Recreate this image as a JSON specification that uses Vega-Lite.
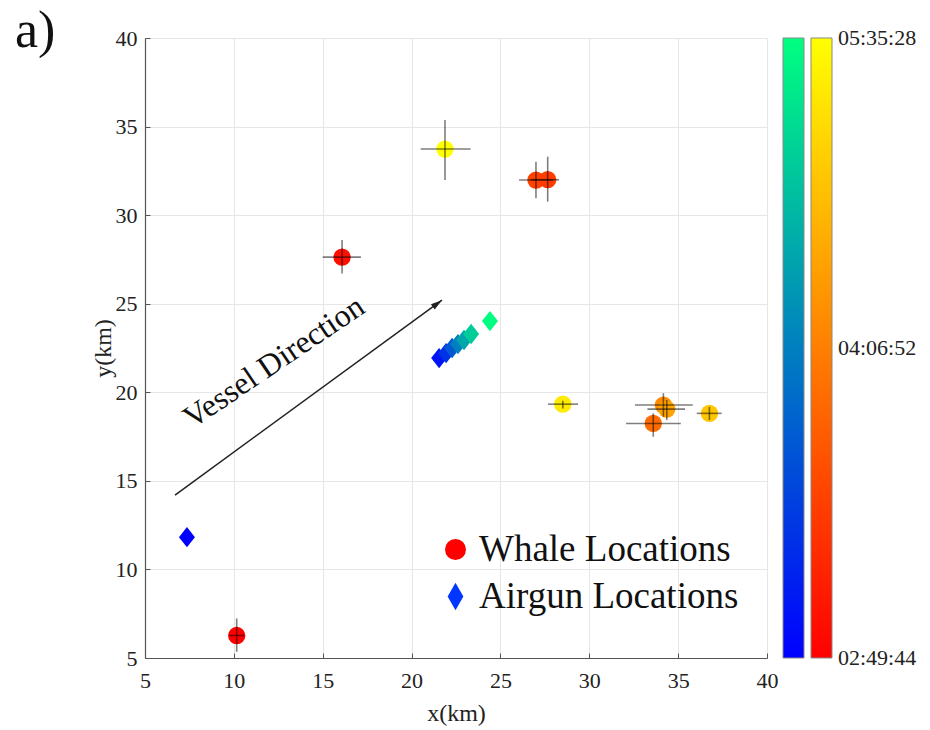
{
  "$schema": "https://vega.github.io/schema/vega-lite/v6.json",
  "width": 622,
  "height": 620,
  "autosize": {"type": "none"},
  "padding": {"left": 145, "top": 38, "right": 163, "bottom": 72},
  "background": "white",
  "title": {"text": "a)", "anchor": "start", "frame": "group", "orient": "top", "offset": 0, "dx": -130, "dy": 72, "fontSize": 52, "font": "Liberation Serif", "fontWeight": "normal", "color": "#111", "baseline": "alphabetic"},
  "datasets": {
    "whales": [
      {"x": 10.16, "y": 6.27, "xlo": 9.74, "xhi": 10.57, "ylo": 5.35, "yhi": 7.23, "seconds": 10184},
      {"x": 16.09, "y": 27.63, "xlo": 15.0, "xhi": 17.15, "ylo": 26.71, "yhi": 28.59, "seconds": 10780},
      {"x": 27.0, "y": 31.98, "xlo": 26.05, "xhi": 27.96, "ylo": 30.95, "yhi": 33.02, "seconds": 12770},
      {"x": 27.66, "y": 32.0, "xlo": 26.72, "xhi": 28.3, "ylo": 30.76, "yhi": 33.3, "seconds": 12570},
      {"x": 33.6, "y": 18.24, "xlo": 32.07, "xhi": 35.15, "ylo": 17.49, "yhi": 18.81, "seconds": 14360},
      {"x": 34.17, "y": 19.28, "xlo": 32.57, "xhi": 35.82, "ylo": 18.62, "yhi": 19.95, "seconds": 15650},
      {"x": 34.36, "y": 19.05, "xlo": 33.27, "xhi": 35.39, "ylo": 18.43, "yhi": 19.56, "seconds": 16550},
      {"x": 36.76, "y": 18.81, "xlo": 36.05, "xhi": 37.45, "ylo": 18.43, "yhi": 19.18, "seconds": 17940},
      {"x": 28.51, "y": 19.33, "xlo": 27.68, "xhi": 29.37, "ylo": 19.09, "yhi": 19.52, "seconds": 19330},
      {"x": 21.88, "y": 33.73, "xlo": 20.51, "xhi": 23.32, "ylo": 31.98, "yhi": 35.37, "seconds": 20128}
    ],
    "airguns": [
      {"x": 7.36, "y": 11.82, "seconds": 10184},
      {"x": 21.55, "y": 21.93, "seconds": 10980},
      {"x": 21.94, "y": 22.21, "seconds": 12173},
      {"x": 22.28, "y": 22.5, "seconds": 13664},
      {"x": 22.61, "y": 22.72, "seconds": 15156},
      {"x": 22.95, "y": 22.95, "seconds": 16648},
      {"x": 23.35, "y": 23.29, "seconds": 18139},
      {"x": 24.41, "y": 24.02, "seconds": 20128}
    ],
    "arrow": [
      {"x": 6.69, "y": 14.2, "x2": 21.71, "y2": 25.2}
    ],
    "note": [
      {"x": 12.25, "y": 21.7, "label": "Vessel Direction"}
    ]
  },
  "config": {
    "view": {"stroke": null},
    "font": "Liberation Serif",
    "axis": {
      "grid": true, "gridColor": "#e6e6e6", "gridWidth": 1,
      "domainColor": "#555", "domainWidth": 1.2, "tickColor": "#555", "tickSize": -5,
      "labelFont": "Liberation Serif", "labelFontSize": 22, "labelColor": "#222", "labelPadding": 12,
      "labelFlush": false, "labelOverlap": false,
      "titleFont": "Liberation Serif", "titleFontSize": 24, "titleFontWeight": "normal", "titleColor": "#222"
    }
  },
  "layer": [
    {
      "data": {"name": "airguns"},
      "mark": {"type": "point", "filled": true, "opacity": 1, "size": 256, "strokeWidth": 0, "shape": "M0,-1.27L1,0L0,1.27L-1,0Z"},
      "encoding": {
        "x": {"field": "x", "type": "quantitative", "title": "x(km)", "scale": {"domain": [5, 40], "nice": false, "zero": false}, "axis": {"values": [5, 10, 15, 20, 25, 30, 35, 40], "titlePadding": 10, "labelPadding": 17}},
        "y": {"field": "y", "type": "quantitative", "title": "y(km)", "scale": {"domain": [5, 40], "nice": false, "zero": false}, "axis": {"values": [5, 10, 15, 20, 25, 30, 35, 40], "titlePadding": 0, "labelPadding": 13}},
        "color": {"field": "seconds", "type": "quantitative", "scale": {"domain": [10184, 20128], "range": ["#0000ff", "#00ff80"], "interpolate": "rgb"},
          "legend": {"orient": "none", "legendX": 638, "legendY": 0, "direction": "vertical", "title": null, "gradientLength": 620, "gradientThickness": 21, "gradientStrokeColor": "#888", "gradientStrokeWidth": 1, "values": [10185, 20127], "labelExpr": "''"}}
      }
    },
    {
      "data": {"name": "airguns"},
      "mark": {"type": "point", "filled": true, "size": 0, "strokeWidth": 0},
      "encoding": {
        "x": {"field": "x", "type": "quantitative", "title": "x(km)"},
        "y": {"field": "y", "type": "quantitative", "title": "y(km)"},
        "shape": {"datum": "Whale Locations", "type": "nominal", "scale": {"domain": ["Whale Locations", "Airgun Locations"], "range": ["circle", "M0,-1.3L0.75,0L0,1.3L-0.75,0Z"]},
          "legend": {"orient": "none", "legendX": 292, "legendY": 493, "title": null, "symbolSize": 441, "symbolStrokeWidth": 0, "symbolOpacity": 1, "labelFont": "Liberation Serif", "labelFontSize": 37, "labelColor": "#111", "labelOffset": 5, "labelLimit": 500, "rowPadding": 9}},
        "fill": {"datum": "Whale Locations", "type": "nominal", "scale": {"domain": ["Whale Locations", "Airgun Locations"], "range": ["#ff0000", "#0036ff"]},
          "legend": {"orient": "none", "legendX": 292, "legendY": 493, "title": null, "symbolSize": 441, "symbolStrokeWidth": 0, "symbolOpacity": 1, "labelFont": "Liberation Serif", "labelFontSize": 37, "labelColor": "#111", "labelOffset": 5, "labelLimit": 500, "rowPadding": 9}}
      }
    },
    {
      "data": {"name": "arrow"},
      "mark": {"type": "rule", "color": "#222", "strokeWidth": 1.5},
      "encoding": {
        "x": {"field": "x", "type": "quantitative", "title": "x(km)"},
        "y": {"field": "y", "type": "quantitative", "title": "y(km)"},
        "x2": {"field": "x2"},
        "y2": {"field": "y2"}
      }
    },
    {
      "data": {"name": "arrow"},
      "mark": {"type": "point", "filled": true, "opacity": 1, "color": "#222", "shape": "M0,0L0.45,1.6L-0.45,1.6Z", "size": 200, "angle": 54, "strokeWidth": 0},
      "encoding": {
        "x": {"field": "x2", "type": "quantitative", "title": "x(km)"},
        "y": {"field": "y2", "type": "quantitative", "title": "y(km)"}
      }
    },
    {
      "data": {"name": "note"},
      "mark": {"type": "text", "angle": -34, "fontSize": 32, "font": "Liberation Serif", "color": "#111", "align": "center", "baseline": "middle"},
      "encoding": {
        "x": {"field": "x", "type": "quantitative", "title": "x(km)"},
        "y": {"field": "y", "type": "quantitative", "title": "y(km)"},
        "text": {"field": "label"}
      }
    },
    {
      "data": {"name": "whales"},
      "mark": {"type": "point", "filled": true, "opacity": 1, "size": 300, "strokeWidth": 0, "shape": "circle"},
      "encoding": {
        "x": {"field": "x", "type": "quantitative", "title": "x(km)"},
        "y": {"field": "y", "type": "quantitative", "title": "y(km)"},
        "color": {"field": "seconds", "type": "quantitative", "scale": {"domain": [10184, 20128], "range": ["#ff0000", "#ffff00"], "interpolate": "rgb"},
          "legend": {"orient": "none", "legendX": 666, "legendY": 0, "direction": "vertical", "title": null, "gradientLength": 620, "gradientThickness": 21, "gradientStrokeColor": "#888", "gradientStrokeWidth": 1,
            "values": [10185, 15156, 20127], "labelExpr": "datum.value < 12000 ? '02:49:44' : datum.value < 18000 ? '04:06:52' : '05:35:28'",
            "labelFont": "Liberation Serif", "labelFontSize": 22, "labelColor": "#222", "labelOffset": 6}}
      }
    },
    {
      "data": {"name": "whales"},
      "mark": {"type": "rule", "color": "#000", "opacity": 0.5, "strokeWidth": 1.6},
      "encoding": {
        "x": {"field": "xlo", "type": "quantitative", "title": "x(km)"},
        "x2": {"field": "xhi"},
        "y": {"field": "y", "type": "quantitative", "title": "y(km)"}
      }
    },
    {
      "data": {"name": "whales"},
      "mark": {"type": "rule", "color": "#000", "opacity": 0.5, "strokeWidth": 1.6},
      "encoding": {
        "x": {"field": "x", "type": "quantitative", "title": "x(km)"},
        "y": {"field": "ylo", "type": "quantitative", "title": "y(km)"},
        "y2": {"field": "yhi"}
      }
    }
  ],
  "resolve": {"scale": {"color": "independent"}}
}
